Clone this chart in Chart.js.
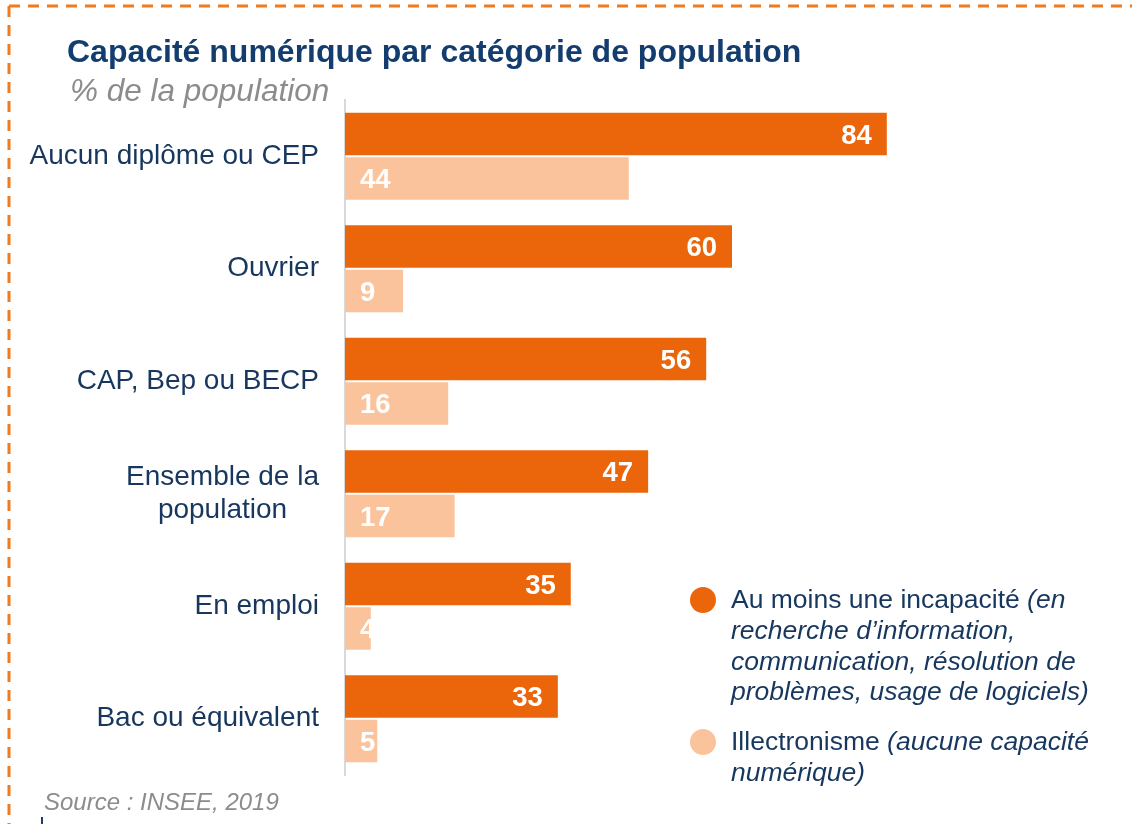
<!DOCTYPE html>
<html lang="fr">
<head>
<meta charset="utf-8">
<title>Capacité numérique par catégorie de population</title>
<script src="https://cdn.jsdelivr.net/npm/chart.js@4/dist/chart.umd.min.js"></script>
<style>
  html, body { margin: 0; padding: 0; background: #fff; }
  body { width: 1132px; height: 824px; position: relative; overflow: hidden;
         font-family: "Liberation Sans", Arial, sans-serif; }
  #frame { position: absolute; left: 0; top: 0; }
  #wrap { position: absolute; left: 0; top: 0; width: 1132px; height: 824px; }
  .title { position: absolute; left: 67px; top: 33px; font-size: 32px; font-weight: bold; color: #123d6e; white-space: nowrap; }
  .subtitle { position: absolute; left: 70px; top: 72px; font-size: 31.5px; font-style: italic; color: #8c8c8c; white-space: nowrap; }
  .source { position: absolute; left: 44px; top: 788px; font-size: 24px; font-style: italic; color: #8c8c8c; white-space: nowrap; }
  .mark { position: absolute; left: 41px; top: 817px; width: 2px; height: 7px; background: #1f3d6e; }
  .legend { position: absolute; left: 690px; top: 584px; color: #17375e; font-size: 26.5px; line-height: 30.8px; }
  .legend .item { position: relative; padding-left: 41px; margin-bottom: 19px; white-space: nowrap; }
  .legend .dot { position: absolute; left: 0; top: 3px; width: 26px; height: 26px; border-radius: 50%; }
  .legend i { font-style: italic; }
</style>
</head>
<body>
<svg id="frame" width="1132" height="824">
  <line x1="9" y1="6" x2="1132" y2="6" stroke="#f07a1e" stroke-width="3" stroke-dasharray="11 8"/>
  <line x1="9" y1="6" x2="9" y2="824" stroke="#f07a1e" stroke-width="3" stroke-dasharray="11 8"/>
</svg>
<div id="wrap"><canvas id="capaciteChart" width="1132" height="824"></canvas></div>
<div class="title">Capacité numérique par catégorie de population</div>
<div class="subtitle">% de la population</div>
<div class="legend">
  <div class="item"><span class="dot" style="background:#eb660a"></span>Au moins une incapacité <i>(en<br>recherche d’information,<br>communication, résolution de<br>problèmes, usage de logiciels)</i></div>
  <div class="item"><span class="dot" style="background:#fbc39b"></span>Illectronisme <i>(aucune capacité<br>numérique)</i></div>
</div>
<div class="source">Source : INSEE, 2019</div>
<div class="mark"></div>

<script>
// Catégories et valeurs (% de la population)
const categories = [
    'Aucun diplôme ou CEP',
    'Ouvrier',
    'CAP, Bep ou BECP',
    ['Ensemble de la', 'population'],
    'En emploi',
    'Bac ou équivalent'
];
const incapacite = [84, 60, 56, 47, 35, 33];
const illectronisme = [44, 9, 16, 17, 4, 5];

const ORANGE = '#eb660a';
const PEACH = '#fbc39b';
const LABEL_BLUE = '#17375e';
const FONT = '"Liberation Sans", Arial, sans-serif';

// Libellés de catégories, centrés entre eux quand ils sont sur plusieurs lignes
const categoryLabels = {
    id: 'categoryLabels',
    afterDraw(chart) {
        const ctx = chart.ctx;
        const yScale = chart.scales.y;
        const rightX = 319;
        const lineH = 33;
        ctx.save();
        ctx.font = '28px ' + FONT;
        ctx.fillStyle = LABEL_BLUE;
        ctx.textBaseline = 'middle';
        categories.forEach((label, i) => {
            const y = yScale.getPixelForValue(i);
            const lines = Array.isArray(label) ? label : [label];
            const widest = Math.max(...lines.map(l => ctx.measureText(l).width));
            const cx = rightX - widest / 2;
            ctx.textAlign = 'center';
            lines.forEach((line, j) => {
                const ly = y + (j - (lines.length - 1) / 2) * lineH;
                ctx.fillText(line, cx, ly);
            });
        });
        ctx.restore();
    }
};

// Valeurs écrites en blanc dans les barres
const valueLabels = {
    id: 'valueLabels',
    afterDatasetsDraw(chart) {
        const ctx = chart.ctx;
        const size = 27.5;
        ctx.save();
        ctx.font = 'bold ' + size + 'px ' + FONT;
        ctx.fillStyle = '#ffffff';
        ctx.textBaseline = 'alphabetic';
        const shift = size * 0.716 / 2;
        chart.data.datasets.forEach((ds, di) => {
            chart.getDatasetMeta(di).data.forEach((bar, i) => {
                const text = String(ds.data[i]);
                if (di === 0) {
                    ctx.textAlign = 'right';
                    ctx.fillText(text, bar.x - 15, bar.y + shift);
                } else {
                    ctx.textAlign = 'left';
                    ctx.fillText(text, bar.base + 15, bar.y + shift);
                }
            });
        });
        ctx.restore();
    }
};

const ctx = document.getElementById('capaciteChart').getContext('2d');
new Chart(ctx, {
    type: 'bar',
    data: {
        labels: categories,
        datasets: [{
            label: 'Au moins une incapacité',
            data: incapacite,
            backgroundColor: ORANGE,
            borderWidth: 0,
            barPercentage: 0.96,
            categoryPercentage: 0.79
        }, {
            label: 'Illectronisme',
            data: illectronisme,
            backgroundColor: PEACH,
            borderWidth: 0,
            barPercentage: 0.96,
            categoryPercentage: 0.79
        }]
    },
    options: {
        indexAxis: 'y',
        responsive: false,
        animation: false,
        layout: { padding: { top: 100, bottom: 49, right: 142, left: 0 } },
        plugins: {
            legend: { display: false },
            tooltip: { enabled: false }
        },
        scales: {
            x: {
                display: false,
                min: 0,
                max: 100
            },
            y: {
                grid: { display: false, drawTicks: false },
                border: { display: true, color: '#d9d9d9', width: 2 },
                ticks: { display: false },
                afterFit: function(scale) { scale.width = 345; }
            }
        }
    },
    plugins: [categoryLabels, valueLabels]
});
</script>
</body>
</html>
